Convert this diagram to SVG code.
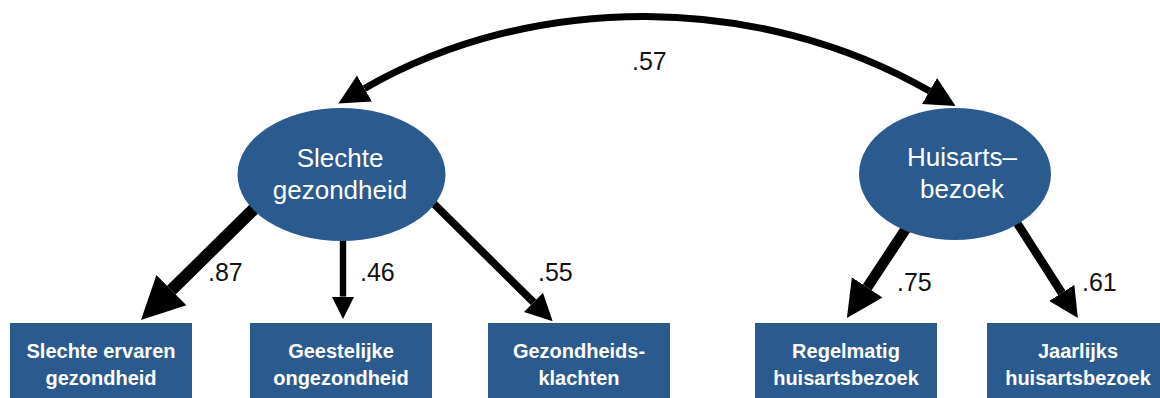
<svg xmlns="http://www.w3.org/2000/svg" width="1160" height="398" viewBox="0 0 1160 398">
  <style>
    .latent { fill: #2b5b8e; }
    .obs { fill: #2b5b8e; }
    .lt { font-family: "Liberation Sans", Arial, sans-serif; font-size: 26px; fill: #ffffff; text-anchor: middle; }
    .ot { font-family: "Liberation Sans", Arial, sans-serif; font-size: 20px; font-weight: bold; fill: #ffffff; text-anchor: middle; }
    .lbl { font-family: "Liberation Sans", Arial, sans-serif; font-size: 25px; fill: #111111; }
    .arr { fill: none; stroke: #000000; stroke-linecap: butt; }
  </style>
  <defs>
    <marker id="head" viewBox="0 0 10 10" refX="0" refY="5" markerUnits="strokeWidth" markerWidth="3.5" markerHeight="3.7" orient="auto">
      <path d="M0,0 L10,5 L0,10 z" fill="#000000"/>
    </marker>
    <marker id="headC" viewBox="0 0 10 10" refX="0" refY="5" markerUnits="strokeWidth" markerWidth="4.3" markerHeight="4.5" orient="auto-start-reverse">
      <path d="M0,0 L10,5 L0,10 z" fill="#000000"/>
    </marker>
  </defs>

  <g id="connectors">
    <path class="arr" d="M364.5,88.5 C534,-9 759,-7 929.5,91" stroke-width="7" marker-start="url(#headC)" marker-end="url(#headC)"/>
    <line class="arr" x1="265" y1="198" x2="171.4" y2="290.1" stroke-width="12.2" marker-end="url(#head)"/>
    <line class="arr" x1="343" y1="235" x2="343" y2="296.6" stroke-width="6.4" marker-end="url(#head)"/>
    <line class="arr" x1="425" y1="195" x2="533.5" y2="302.3" stroke-width="7.7" marker-end="url(#head)"/>
    <line class="arr" x1="915" y1="215" x2="867.2" y2="287.3" stroke-width="10.5" marker-end="url(#head)"/>
    <line class="arr" x1="1010" y1="212" x2="1061.8" y2="292.9" stroke-width="8.5" marker-end="url(#head)"/>
  </g>

  <g id="labels">
    <text class="lbl" x="632" y="70">.57</text>
    <text class="lbl" x="208" y="281">.87</text>
    <text class="lbl" x="360" y="281">.46</text>
    <text class="lbl" x="538" y="281">.55</text>
    <text class="lbl" x="897" y="291">.75</text>
    <text class="lbl" x="1082" y="291">.61</text>
  </g>

  <g id="node-slechte-gezondheid">
    <ellipse class="latent" cx="341.5" cy="174.5" rx="104" ry="66.5"/>
    <text class="lt" x="340" y="167">Slechte</text>
    <text class="lt" x="340" y="199">gezondheid</text>
  </g>

  <g id="node-huisartsbezoek">
    <ellipse class="latent" cx="955" cy="174" rx="96" ry="66"/>
    <text class="lt" x="962" y="166">Huisarts–</text>
    <text class="lt" x="962" y="198">bezoek</text>
  </g>

  <g id="node-slechte-ervaren">
    <rect class="obs" x="10" y="323" width="182" height="80"/>
    <text class="ot" x="101" y="358">Slechte ervaren</text>
    <text class="ot" x="101" y="385">gezondheid</text>
  </g>

  <g id="node-geestelijke">
    <rect class="obs" x="250" y="323" width="182" height="80"/>
    <text class="ot" x="341" y="358">Geestelijke</text>
    <text class="ot" x="341" y="385">ongezondheid</text>
  </g>

  <g id="node-klachten">
    <rect class="obs" x="488" y="323" width="182" height="80"/>
    <text class="ot" x="579" y="358">Gezondheids-</text>
    <text class="ot" x="579" y="385">klachten</text>
  </g>

  <g id="node-regelmatig">
    <rect class="obs" x="755" y="323" width="182" height="80"/>
    <text class="ot" x="846" y="358">Regelmatig</text>
    <text class="ot" x="846" y="385">huisartsbezoek</text>
  </g>

  <g id="node-jaarlijks">
    <rect class="obs" x="987" y="323" width="182" height="80"/>
    <text class="ot" x="1078" y="358">Jaarlijks</text>
    <text class="ot" x="1078" y="385">huisartsbezoek</text>
  </g>
</svg>
